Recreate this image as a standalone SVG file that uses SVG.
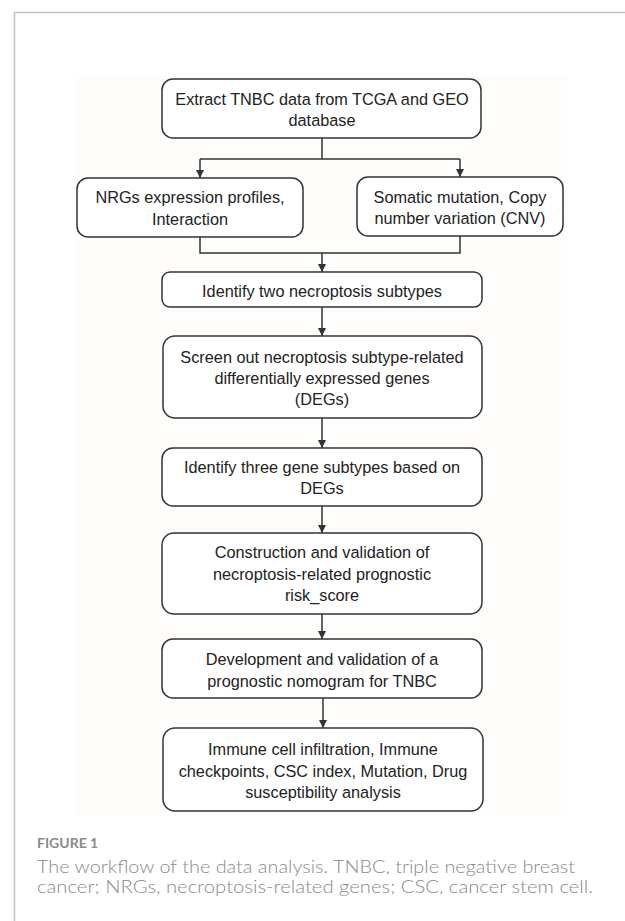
<svg xmlns="http://www.w3.org/2000/svg" width="625" height="921" viewBox="0 0 625 921">
<style>
.box{fill:#ffffff;stroke:#333333;stroke-width:1.5}
.t{font-family:"Liberation Sans",Arial,sans-serif;font-size:16.3px;fill:#222222;text-anchor:middle}
.c{stroke:#333333;stroke-width:1.5;fill:none}
.cap{font-family:Lato,"Liberation Sans",sans-serif;fill:#8a8a8a}
</style>
<defs>
<marker id="ah" viewBox="0 0 10 10" refX="10" refY="5" markerWidth="8" markerHeight="8" markerUnits="userSpaceOnUse" orient="auto">
<path d="M0,0 L10,5 L0,10 z" fill="#333333"/>
</marker>
</defs>
<rect x="0" y="0" width="625" height="921" fill="#ffffff"/>
<path d="M14.5,921 V12.5 H625" fill="none" stroke="#c4c4c4" stroke-width="1.5"/>
<rect x="75" y="76" width="492" height="739" fill="#fefdfb"/>

<g id="connectors">
<path class="c" d="M322,138 V159"/>
<path class="c" d="M200,159 H460"/>
<path class="c" d="M200,159 V178" marker-end="url(#ah)"/>
<path class="c" d="M460,159 V177" marker-end="url(#ah)"/>
<path class="c" d="M200,237 V253 H460 V236"/>
<path class="c" d="M322,253 V272" marker-end="url(#ah)"/>
<path class="c" d="M322,307 V336" marker-end="url(#ah)"/>
<path class="c" d="M322,418 V448" marker-end="url(#ah)"/>
<path class="c" d="M322,506 V533" marker-end="url(#ah)"/>
<path class="c" d="M322,614 V639" marker-end="url(#ah)"/>
<path class="c" d="M323,698 V728" marker-end="url(#ah)"/>
</g>

<g id="n1">
<rect class="box" x="162" y="79" width="319" height="59" rx="11"/>
<text class="t" x="322" y="104.5">Extract TNBC data from TCGA and GEO</text>
<text class="t" x="322" y="125.5">database</text>
</g>
<g id="n2">
<rect class="box" x="77" y="178" width="226" height="59" rx="11"/>
<text class="t" x="190" y="202.5">NRGs expression profiles,</text>
<text class="t" x="190" y="224.5">Interaction</text>
</g>
<g id="n3">
<rect class="box" x="357" y="177" width="206" height="59" rx="11"/>
<text class="t" x="460" y="202.5">Somatic mutation, Copy</text>
<text class="t" x="460" y="223.5">number variation (CNV)</text>
</g>
<g id="n4">
<rect class="box" x="162" y="272" width="320" height="35" rx="8"/>
<text class="t" x="322" y="296.5">Identify two necroptosis subtypes</text>
</g>
<g id="n5">
<rect class="box" x="163" y="336" width="319" height="82" rx="12"/>
<text class="t" x="322" y="362.5">Screen out necroptosis subtype-related</text>
<text class="t" x="322" y="383.5">differentially expressed genes</text>
<text class="t" x="322" y="404.5">(DEGs)</text>
</g>
<g id="n6">
<rect class="box" x="162" y="448" width="320" height="58" rx="11"/>
<text class="t" x="322" y="472.5">Identify three gene subtypes based on</text>
<text class="t" x="322" y="493.5">DEGs</text>
</g>
<g id="n7">
<rect class="box" x="162" y="533" width="320" height="81" rx="12"/>
<text class="t" x="322" y="557.5">Construction and validation of</text>
<text class="t" x="322" y="579.5">necroptosis-related prognostic</text>
<text class="t" x="322" y="600.5">risk_score</text>
</g>
<g id="n8">
<rect class="box" x="162" y="639" width="320" height="59" rx="11"/>
<text class="t" x="322" y="664.5">Development and validation of a</text>
<text class="t" x="322" y="686.5">prognostic nomogram for TNBC</text>
</g>
<g id="n9">
<rect class="box" x="163" y="728" width="320" height="83" rx="12"/>
<text class="t" x="323" y="754.5">Immune cell infiltration, Immune</text>
<text class="t" x="323" y="776.5">checkpoints, CSC index, Mutation, Drug</text>
<text class="t" x="323" y="797.5">susceptibility analysis</text>
</g>

<text class="cap" x="37" y="848" font-size="14" font-weight="bold" fill="#858585">FIGURE 1</text>
<text class="cap" x="37" y="873" font-size="18.5" font-weight="300" textLength="538" lengthAdjust="spacingAndGlyphs">The workflow of the data analysis. TNBC, triple negative breast</text>
<text class="cap" x="37" y="893" font-size="18.5" font-weight="300" textLength="556" lengthAdjust="spacingAndGlyphs">cancer; NRGs, necroptosis-related genes; CSC, cancer stem cell.</text>
</svg>
